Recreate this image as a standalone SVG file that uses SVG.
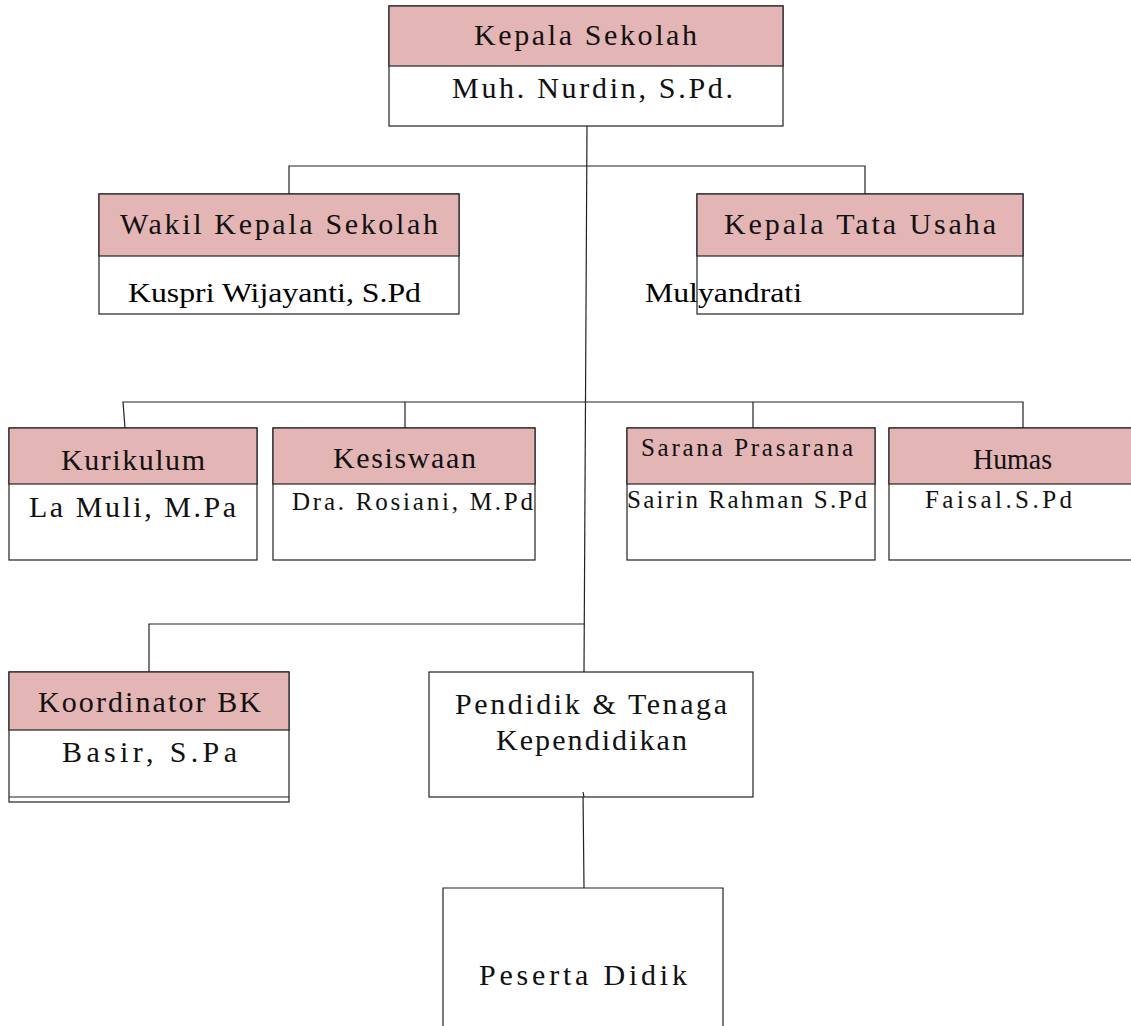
<svg xmlns="http://www.w3.org/2000/svg" width="1131" height="1026" viewBox="0 0 1131 1026">
<style>
.box{fill:#ffffff;stroke:#222;stroke-width:1.2}
.hd{fill:#e3b5b5;stroke:#222;stroke-width:1.2}
.ln{stroke:#222;stroke-width:1.2;fill:none}
.m{font-family:"Liberation Serif","Times New Roman",serif;fill:#111}
.big{font-size:30px}
.sm{font-size:25px}
.tr{font-family:"Liberation Serif","Times New Roman",serif;font-size:27px;fill:#000}
</style>
<rect width="1131" height="1026" fill="#fff"/>
<g id="connectors">
<path class="ln" d="M587 126 L584 672"/>
<path class="ln" d="M289 194 V166 H865 V194"/>
<path class="ln" d="M125 428 L123 402 H1023 V428"/>
<path class="ln" d="M405 402 V428"/>
<path class="ln" d="M753 402 V428"/>
<path class="ln" d="M149 672 V624 H584"/>
<path class="ln" d="M583 792 L584 888"/>
</g>
<g id="kepala-sekolah">
<rect class="box" x="389" y="6" width="394" height="120"/>
<rect class="hd" x="389" y="6" width="394" height="60"/>
<text class="m big" x="474" y="45" textLength="223" lengthAdjust="spacing">Kepala Sekolah</text>
<text class="m big" x="452" y="98" textLength="281" lengthAdjust="spacing">Muh. Nurdin, S.Pd.</text>
</g>
<g id="wakil">
<rect class="box" x="99" y="194" width="360" height="120"/>
<rect class="hd" x="99" y="194" width="360" height="62"/>
<text class="m big" x="120" y="234" textLength="318" lengthAdjust="spacing">Wakil Kepala Sekolah</text>
<text class="tr" x="128" y="302" textLength="293" lengthAdjust="spacingAndGlyphs">Kuspri Wijayanti, S.Pd</text>
</g>
<g id="tata-usaha">
<rect class="box" x="697" y="194" width="326" height="120"/>
<rect class="hd" x="697" y="194" width="326" height="62"/>
<text class="m big" x="724" y="234" textLength="272" lengthAdjust="spacing">Kepala Tata Usaha</text>
<text class="tr" x="645" y="302" textLength="157" lengthAdjust="spacingAndGlyphs">Mulyandrati</text>
</g>
<g id="kurikulum">
<rect class="box" x="9" y="428" width="248" height="132"/>
<rect class="hd" x="9" y="428" width="248" height="56"/>
<text class="m big" x="61" y="470" textLength="144" lengthAdjust="spacing">Kurikulum</text>
<text class="m big" x="29" y="517" textLength="207" lengthAdjust="spacing">La Muli, M.Pa</text>
</g>
<g id="kesiswaan">
<rect class="box" x="273" y="428" width="262" height="132"/>
<rect class="hd" x="273" y="428" width="262" height="56"/>
<text class="m big" x="333" y="468" textLength="143" lengthAdjust="spacing">Kesiswaan</text>
<text class="m sm" x="292" y="510" textLength="241" lengthAdjust="spacing">Dra. Rosiani, M.Pd</text>
</g>
<g id="sarana">
<rect class="box" x="627" y="428" width="248" height="132"/>
<rect class="hd" x="627" y="428" width="248" height="56"/>
<text class="m sm" x="641" y="456" textLength="212" lengthAdjust="spacing">Sarana Prasarana</text>
<text class="m sm" x="627" y="508" textLength="240" lengthAdjust="spacing">Sairin Rahman S.Pd</text>
</g>
<g id="humas">
<rect class="box" x="889" y="428" width="250" height="132"/>
<rect class="hd" x="889" y="428" width="250" height="56"/>
<text class="m big" x="973" y="469" textLength="79" lengthAdjust="spacingAndGlyphs">Humas</text>
<text class="m sm" x="925" y="508" textLength="147" lengthAdjust="spacing">Faisal.S.Pd</text>
</g>
<g id="koordinator-bk">
<rect class="box" x="9" y="672" width="280" height="130"/>
<rect class="hd" x="9" y="672" width="280" height="58"/>
<path class="ln" d="M9 797 H289"/>
<text class="m big" x="38" y="712" textLength="223" lengthAdjust="spacing">Koordinator BK</text>
<text class="m big" x="62" y="762" textLength="175" lengthAdjust="spacing">Basir, S.Pa</text>
</g>
<g id="pendidik">
<rect class="box" x="429" y="672" width="324" height="125"/>
<text class="m big" x="455" y="714" textLength="272" lengthAdjust="spacing">Pendidik &amp; Tenaga</text>
<text class="m big" x="496" y="750" textLength="191" lengthAdjust="spacing">Kependidikan</text>
</g>
<path class="ln" d="M583 792 L584 797"/>
<g id="peserta-didik">
<path class="box" d="M443 1030 V888 H723 V1030"/>
<text class="m big" x="479" y="985" textLength="208" lengthAdjust="spacing">Peserta Didik</text>
</g>
</svg>
